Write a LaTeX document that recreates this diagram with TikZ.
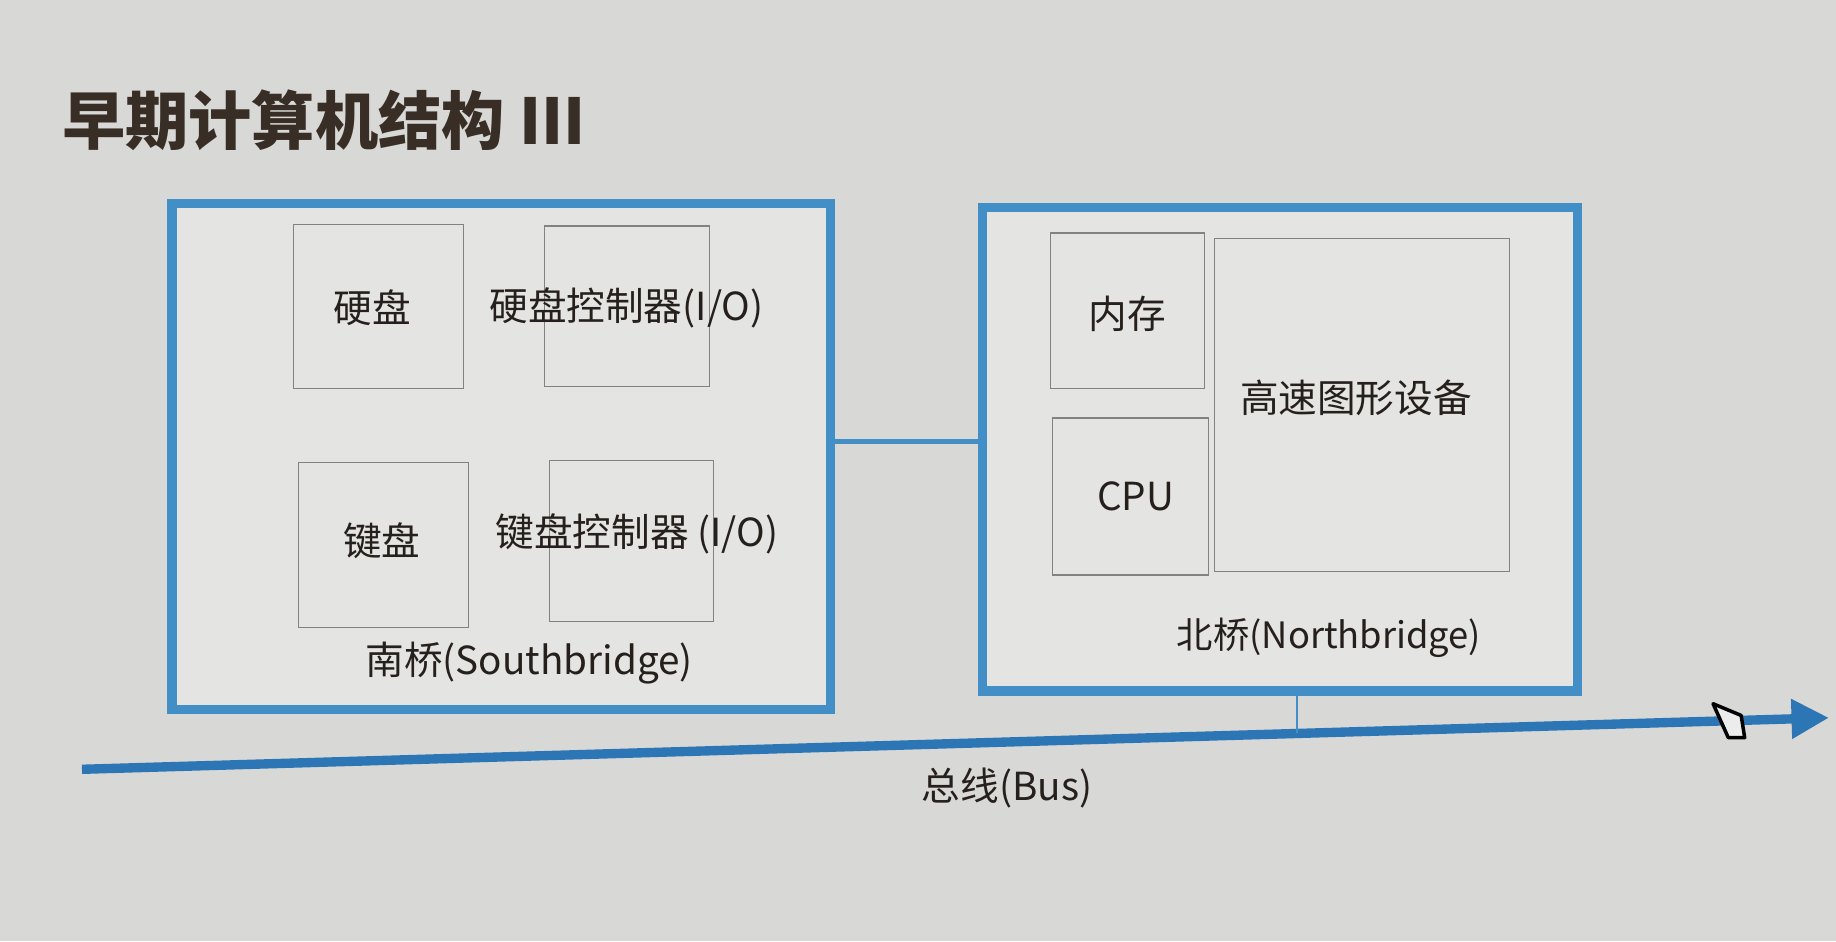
\documentclass[tikz,border=0pt]{standalone}
\usepackage{fontspec}
\setmainfont{Noto Sans CJK SC}
\usetikzlibrary{arrows.meta,calc}
\definecolor{bg}{RGB}{216,216,214}
\definecolor{boxbg}{RGB}{228,228,226}
\definecolor{bl}{RGB}{66,142,198}
\definecolor{busc}{RGB}{44,118,182}
\definecolor{ink}{RGB}{38,32,28}
\definecolor{titlec}{RGB}{56,46,38}
\definecolor{thin}{RGB}{130,130,130}
\begin{document}
\begin{tikzpicture}[x=1pt,y=-1pt,
  bridge/.style={draw=bl, line width=8pt, fill=boxbg, rectangle, inner sep=0pt},
  part/.style={draw=thin, line width=1pt, rectangle, inner sep=0pt, text=ink},
  lbl/.style={inner sep=0pt, text=ink, font=\fontsize{33}{38}\selectfont}]
\useasboundingbox[fill=bg] (0,0) rectangle (1568,804);
\node[anchor=west, inner sep=0pt, text=titlec, font=\fontsize{54}{60}\selectfont\bfseries] (title) at (53,103) {早期计算机结构 III};
% bridges
\node[bridge, minimum width=562pt, minimum height=432pt] (sb) at (428,390) {};
\node[bridge, minimum width=508pt, minimum height=413pt] (nb) at (1093,383.5) {};
% southbridge parts
\node[part, minimum width=145pt, minimum height=140pt] (hd) at (323.5,262) {};
\node[part, minimum width=141pt, minimum height=137pt] (hdc) at (535.5,261.5) {};
\node[part, minimum width=145pt, minimum height=141pt] (kb) at (327.5,465.5) {};
\node[part, minimum width=140pt, minimum height=138pt] (kbc) at (539,462) {};
\node[lbl] (hdt) at (318,263) {硬盘};
\node[lbl] (hdct) at (535,263) {硬盘控制器(I/O)};
\node[lbl] (kbt) at (326,462) {键盘};
\node[lbl] (kbct) at (544,456) {键盘控制器 (I/O)};
\node[lbl] (sbt) at (452,566) {南桥(Southbridge)};
% northbridge parts
\node[part, minimum width=132pt, minimum height=133pt] (mem) at (963,265.5) {};
\node[part, minimum width=133pt, minimum height=134pt] (cpu) at (965.5,424) {};
\node[part, minimum width=252pt, minimum height=284pt] (gpu) at (1163,346) {};
\node[lbl] (memt) at (963,268) {内存};
\node[lbl] (cput) at (970,424) {CPU};
\node[lbl] (gput) at (1158,340) {高速图形设备};
\node[lbl, font=\fontsize{31}{36}\selectfont] (nbt) at (1135,545) {北桥(Northbridge)};
% connector between bridges
\coordinate (cy) at (0,377);
\draw[bl, line width=4pt] (sb.east |- cy) -- (nb.west |- cy);
% bus
\coordinate (busL) at (70,657);
\coordinate (busR) at (1562,613);
\draw[busc, line width=8pt, -{Triangle[length=32pt,width=32pt]}] (busL) -- (busR);
\coordinate (bj) at ($(busL)!0.6957!(busR)$);
\draw[bl, line width=1.5pt] (nb.south -| bj) -- (bj);
\node[lbl] (bust) at (860,673) {总线(Bus)};
% mouse cursor
\draw[black, line width=3pt, fill=white!85!gray, line join=round] (1463,601) -- (1487,611) -- (1490,630) -- (1476,630) -- cycle;
\end{tikzpicture}
\end{document}
